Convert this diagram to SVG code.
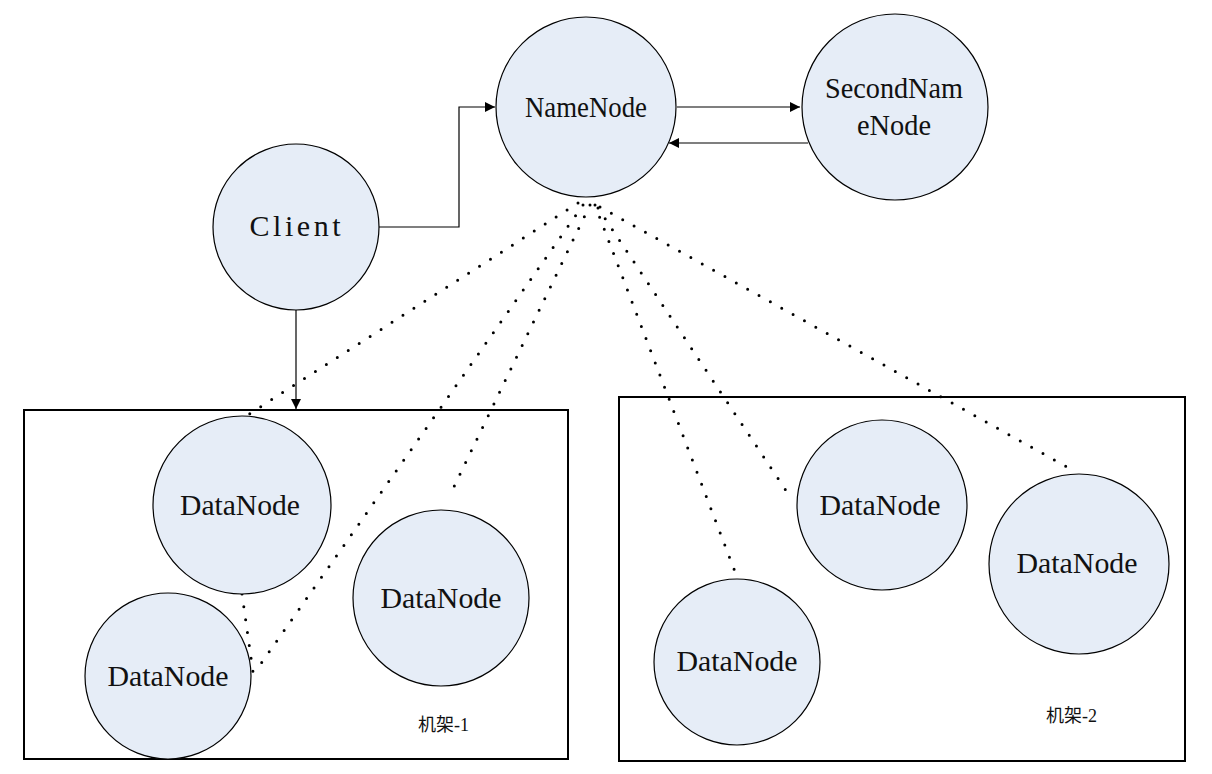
<svg xmlns="http://www.w3.org/2000/svg" width="1212" height="774" viewBox="0 0 1212 774">
<style>
.n{fill:#E6EDF7;stroke:#000;stroke-width:1.2}
.t{font-family:"Liberation Serif",serif;font-size:30px;fill:#111;text-anchor:middle}
.c{fill:none;stroke:#000;stroke-width:1.2}
.d{fill:none;stroke:#000;stroke-width:3;stroke-linecap:round;stroke-dasharray:0 13}
.r{fill:none;stroke:#000;stroke-width:2}
.l{font-family:"Liberation Serif","Noto Sans CJK SC",serif;font-size:18px;fill:#111}
</style>
<defs>
<marker id="a" viewBox="0 0 10 10" refX="10" refY="5" markerWidth="10" markerHeight="10" markerUnits="userSpaceOnUse" orient="auto"><path d="M0,0L10,5L0,10z" fill="#000"/></marker>
</defs>
<g id="rack1"><rect class="r" x="24" y="410" width="544" height="349"/><text class="l" x="418" y="731">机架-1</text></g>
<g id="rack2"><rect class="r" x="619" y="397" width="566" height="364"/><text class="l" x="1046" y="722">机架-2</text></g>
<g id="connectors">
<path class="c" d="M379,227H459V107H495" marker-end="url(#a)"/>
<path class="c" d="M296,310V409" marker-end="url(#a)"/>
<path class="c" d="M677,107H800" marker-end="url(#a)"/>
<path class="c" d="M808,143H669" marker-end="url(#a)"/>
<path class="d" d="M578,203L243,418"/>
<path class="d" d="M583,205L255,672"/>
<path class="d" d="M590,205L449,497"/>
<path class="d" d="M595,205L737,577"/>
<path class="d" d="M598,208L789,495"/>
<path class="d" d="M600,207L1076,472"/>
<path class="d" d="M242,594L253,672"/>
</g>
<g id="namenode"><circle class="n" cx="586" cy="107" r="90"/><text class="t" x="586" y="117" textLength="122" lengthAdjust="spacingAndGlyphs">NameNode</text></g>
<g id="secondnamenode"><circle class="n" cx="895" cy="107" r="93"/><text class="t" x="894" y="98" textLength="138" lengthAdjust="spacingAndGlyphs">SecondNam</text><text class="t" x="894" y="135" textLength="74" lengthAdjust="spacingAndGlyphs">eNode</text></g>
<g id="client"><circle class="n" cx="296" cy="227" r="83"/><text class="t" x="295" y="236" textLength="91" lengthAdjust="spacing">Client</text></g>
<g id="dn1"><circle class="n" cx="242" cy="505" r="89"/><text class="t" x="240" y="515" textLength="120" lengthAdjust="spacingAndGlyphs">DataNode</text></g>
<g id="dn2"><circle class="n" cx="168" cy="676" r="83"/><text class="t" x="168" y="686" textLength="121" lengthAdjust="spacingAndGlyphs">DataNode</text></g>
<g id="dn3"><circle class="n" cx="441" cy="598" r="88"/><text class="t" x="441" y="608" textLength="121" lengthAdjust="spacingAndGlyphs">DataNode</text></g>
<g id="dn4"><circle class="n" cx="882" cy="505" r="85"/><text class="t" x="880" y="515" textLength="121" lengthAdjust="spacingAndGlyphs">DataNode</text></g>
<g id="dn5"><circle class="n" cx="1079" cy="564" r="90"/><text class="t" x="1077" y="573" textLength="121" lengthAdjust="spacingAndGlyphs">DataNode</text></g>
<g id="dn6"><circle class="n" cx="737" cy="662" r="83"/><text class="t" x="737" y="671" textLength="121" lengthAdjust="spacingAndGlyphs">DataNode</text></g>
</svg>
